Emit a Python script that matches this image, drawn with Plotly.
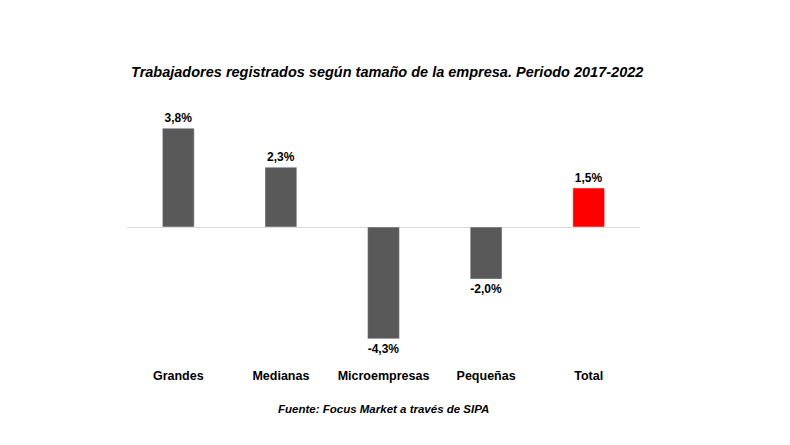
import plotly.graph_objects as go

categorias = ["Grandes", "Medianas", "Microempresas", "Pequeñas", "Total"]
variacion = [3.8, 2.3, -4.3, -2.0, 1.5]
colores = ["#595959", "#595959", "#595959", "#595959", "#ff0000"]
etiquetas = [f"<b>{v:.1f}%</b>".replace(".", ",") for v in variacion]

fig = go.Figure(go.Bar(
    x=categorias, y=variacion, width=0.31,
    marker=dict(color=colores),
    text=etiquetas, textposition="outside", cliponaxis=False,
    textfont=dict(size=12, color="black", family="Liberation Sans"),
))

fig.update_layout(
    width=790, height=445,
    margin=dict(l=119, r=158, t=84, b=98),
    paper_bgcolor="white", plot_bgcolor="white",
    showlegend=False,
    font=dict(family="Liberation Sans", color="black"),
    title=dict(text="<b><i>Trabajadores registrados según tamaño de la empresa. Periodo 2017-2022</i></b>",
               x=0.48, xanchor="center", y=0.856, yanchor="middle",
               font=dict(size=14.5, color="black")),
    annotations=[dict(text="<b><i>Fuente: Focus Market a través de SIPA</i></b>",
                      xref="paper", yref="paper", x=0.5, y=-0.205, yanchor="middle",
                      showarrow=False, font=dict(size=11.5, color="black"))],
)
fig.update_xaxes(showline=False, ticks="", showgrid=False, ticklabelstandoff=11,
                 tickprefix="<b>", ticksuffix="</b>",
                 tickfont=dict(size=12.5, color="black"))
fig.update_yaxes(range=[-4.92, 5.19], visible=True, showticklabels=False,
                 showgrid=False, zeroline=True, zerolinecolor="#d9d9d9", zerolinewidth=1)

fig.write_html("out.html")
